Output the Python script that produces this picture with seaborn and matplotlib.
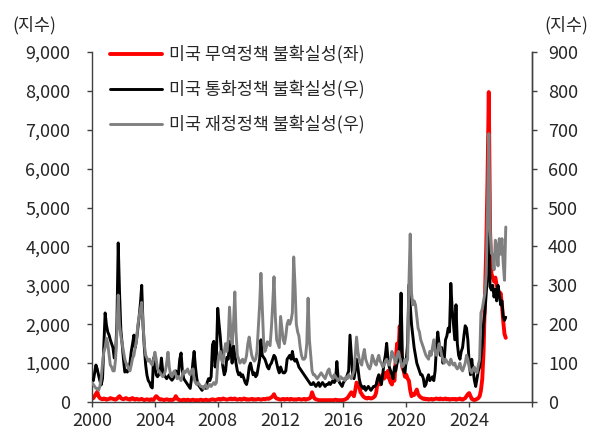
import numpy as np
import pandas as pd
import matplotlib
matplotlib.use('Agg')
import matplotlib.pyplot as plt
import matplotlib.ticker as mticker
import seaborn as sns

# monthly index values, Jan 2000 .. May 2026
trade_unc = [  # left axis
    80, 100, 150, 200, 260, 150, 100, 80, 70, 90, 80, 60,
    70, 80, 100, 90, 80, 70, 60, 80, 120, 150, 100, 80,
    70, 90, 100, 80, 70, 60, 90, 100, 70, 60, 80, 70,
    60, 70, 80, 60, 50, 60, 70, 60, 50, 70, 60, 50,
    110, 150, 120, 80, 60, 70, 60, 50, 60, 70, 60, 50,
    60, 50, 60, 80, 150, 90, 60, 50, 40, 50, 60, 50,
    50, 60, 50, 40, 50, 60, 50, 40, 50, 40, 50, 60,
    50, 40, 50, 60, 50, 40, 50, 60, 70, 60, 50, 60,
    70, 80, 60, 70, 90, 80, 70, 60, 70, 80, 90, 70,
    80, 90, 70, 60, 70, 80, 60, 70, 90, 80, 60, 70,
    60, 70, 80, 60, 70, 60, 70, 80, 70, 60, 70, 80,
    70, 80, 90, 80, 100, 120, 150, 200, 120, 90, 80, 70,
    60, 70, 80, 60, 70, 80, 70, 60, 80, 70, 60, 70,
    60, 70, 80, 70, 60, 70, 80, 60, 70, 80, 90, 120,
    250, 150, 90, 70, 60, 50, 40, 50, 40, 50, 40, 50,
    40, 50, 40, 50, 40, 50, 60, 50, 40, 50, 40, 50,
    50, 60, 80, 100, 150, 200, 250, 200, 150, 300, 500, 450,
    400, 250, 200, 150, 120, 100, 90, 110, 100, 90, 100, 120,
    150, 250, 500, 600, 450, 650, 700, 600, 750, 650, 800, 600,
    500, 450, 600, 550, 1100, 1500, 1200, 1950, 1300, 900, 800, 650,
    700, 600, 550, 300, 150, 200, 180, 250, 320, 200, 150, 120,
    100, 80, 90, 70, 80, 60, 70, 80, 60, 70, 80, 90,
    80, 70, 90, 80, 70, 80, 90, 70, 80, 60, 70, 80,
    70, 80, 60, 70, 80, 90, 70, 60, 80, 100, 150, 200,
    230, 150, 80, 60, 50, 60, 80, 100, 150, 300, 600, 1300,
    2600, 4000, 5600, 7970, 4400, 3300, 3200, 3100, 3200, 3000, 2900, 2700,
    2800, 2500, 2100, 1750, 1650,
]

monetary_unc = [  # right axis
    56, 55, 75, 95, 85, 69, 55, 44, 60, 140, 229, 198,
    180, 172, 160, 150, 140, 113, 125, 200, 409, 283, 185, 150,
    110, 77, 80, 77, 90, 100, 130, 150, 172, 140, 160, 190,
    220, 256, 300, 198, 140, 95, 69, 55, 50, 40, 36, 113,
    100, 70, 65, 70, 75, 113, 80, 70, 65, 60, 65, 70,
    60, 56, 60, 70, 80, 75, 70, 110, 126, 80, 60, 55,
    50, 45, 40, 35, 60, 100, 130, 90, 60, 45, 40, 35,
    30, 35, 40, 35, 50, 60, 55, 65, 147, 156, 90, 120,
    241, 200, 167, 120, 90, 70, 80, 115, 110, 156, 130, 100,
    144, 120, 100, 80, 70, 75, 65, 70, 60, 50, 45, 60,
    90, 100, 85, 70, 75, 65, 70, 90, 110, 160, 120, 115,
    110, 100, 90, 85, 95, 100, 110, 120, 115, 100, 85, 75,
    90, 80, 75, 75, 80, 110, 115, 120, 110, 130, 110, 105,
    110, 100, 90, 85, 80, 75, 70, 65, 60, 55, 50, 45,
    45, 50, 45, 40, 45, 50, 40, 45, 50, 45, 40, 45,
    45, 50, 45, 50, 55, 50, 55, 104, 60, 50, 45, 40,
    50, 55, 60, 70, 80, 172, 120, 70, 60, 80, 110, 90,
    60, 45, 40, 35, 40, 30, 35, 40, 35, 30, 35, 40,
    40, 45, 60, 70, 55, 45, 70, 100, 120, 151, 110, 90,
    80, 70, 60, 90, 80, 100, 110, 150, 280, 120, 80, 75,
    110, 150, 301, 250, 200, 170, 140, 120, 100, 90, 80, 70,
    70, 60, 40, 45, 60, 70, 55, 60, 65, 55, 80, 140,
    180, 150, 120, 140, 100, 110, 160, 170, 190, 180, 305, 240,
    200, 160, 250, 150, 120, 110, 130, 140, 170, 196, 190, 160,
    100, 70, 110, 80, 56, 40, 60, 80, 90, 120, 150, 200,
    230, 280, 330, 455, 296, 288, 300, 270, 290, 260, 300, 280,
    250, 260, 220, 210, 218,
]

fiscal_unc = [  # right axis
    50, 45, 40, 35, 35, 30, 40, 60, 100, 128, 140, 164,
    150, 120, 95, 90, 80, 80, 110, 180, 275, 198, 170, 150,
    128, 110, 100, 95, 85, 80, 95, 113, 120, 140, 160, 198,
    220, 240, 256, 200, 147, 120, 113, 105, 110, 100, 95, 110,
    128, 110, 85, 80, 75, 70, 65, 70, 80, 100, 128, 90,
    70, 65, 75, 80, 70, 60, 65, 60, 55, 70, 80, 75,
    80, 85, 75, 70, 80, 85, 60, 50, 45, 50, 45, 40,
    40, 35, 40, 45, 35, 40, 45, 40, 45, 50, 45, 50,
    100, 120, 130, 110, 100, 130, 150, 130, 160, 244, 180, 150,
    200, 283, 180, 120, 110, 100, 105, 110, 100, 105, 120, 150,
    167, 140, 120, 110, 105, 110, 130, 190, 250, 331, 244, 160,
    130, 140, 155, 150, 145, 190, 250, 322, 220, 160, 150, 140,
    220, 190, 160, 150, 170, 200, 210, 200, 210, 230, 373, 300,
    200, 180, 170, 140, 120, 110, 110, 115, 150, 267, 160, 120,
    80, 70, 70, 65, 60, 65, 70, 75, 70, 65, 60, 70,
    80, 85, 70, 65, 60, 70, 65, 60, 55, 60, 65, 60,
    60, 55, 65, 60, 70, 65, 60, 70, 80, 120, 167, 130,
    110, 100, 95, 120, 135, 110, 100, 90, 85, 95, 120, 110,
    100, 95, 110, 120, 105, 100, 90, 95, 105, 110, 100, 95,
    110, 130, 120, 110, 100, 120, 130, 115, 100, 90, 95, 110,
    100, 110, 300, 432, 280, 250, 260, 250, 220, 190, 180, 160,
    150, 140, 130, 120, 115, 110, 130, 120, 140, 160, 130, 120,
    130, 150, 140, 120, 110, 100, 110, 105, 100, 95, 110, 100,
    95, 100, 90, 85, 90, 100, 85, 80, 90, 100, 120, 110,
    90, 80, 75, 85, 90, 80, 75, 95, 110, 229, 240, 260,
    280, 330, 480, 690, 442, 382, 380, 340, 416, 400, 350, 420,
    380, 420, 360, 313, 450,
]

labels = ['미국 무역정책 불확실성(좌)', '미국 통화정책 불확실성(우)', '미국 재정정책 불확실성(우)']
year_ticks = list(range(2000, 2029, 4))

dates = pd.date_range('2000-01-01', periods=len(trade_unc), freq='MS')
df = pd.DataFrame({'date': dates, 'trade': trade_unc,
                   'monetary': monetary_unc, 'fiscal': fiscal_unc})

sns.set_style('white')
plt.rcParams['font.family'] = ['Noto Sans CJK KR', 'DejaVu Sans']
plt.rcParams['axes.unicode_minus'] = False

fig = plt.figure(figsize=(5.91, 4.33), dpi=100)
ax1 = fig.add_axes([0.1557, 0.0716, 0.7445, 0.8083])
ax2 = ax1.twinx()

sns.lineplot(data=df, x='date', y='trade', ax=ax1, color='#ff0000', lw=2.8, label=labels[0], legend=False)
sns.lineplot(data=df, x='date', y='monetary', ax=ax2, color='#000000', lw=2.1, label=labels[1], legend=False)
sns.lineplot(data=df, x='date', y='fiscal', ax=ax2, color='#808080', lw=2.1, label=labels[2], legend=False)

ax1.set_xlim(pd.Timestamp('2000-01-01'), pd.Timestamp('2028-01-01'))
ax1.set_ylim(0, 9000)
ax2.set_ylim(0, 900)
ax1.set_yticks(range(0, 9001, 1000))
ax2.set_yticks(range(0, 901, 100))
ax1.yaxis.set_major_formatter(mticker.FuncFormatter(lambda v, p: f'{v:,.0f}'))
ax1.set_xticks([pd.Timestamp(f'{y}-01-01') for y in year_ticks])
ax1.set_xticklabels([str(y) if y < 2028 else '' for y in year_ticks])
ax1.set_xlabel('')
ax1.set_ylabel('')
ax2.set_ylabel('')

spine_c = '#404040'
txt_c = '#262626'
for ax in (ax1, ax2):
    ax.spines['top'].set_visible(False)
    for s in ax.spines.values():
        s.set_color(spine_c)
        s.set_linewidth(1.0)
    ax.tick_params(direction='out', length=3.5, width=1.0, color=spine_c,
                   labelsize=13, labelcolor=txt_c)
ax2.spines['left'].set_visible(False)
ax2.spines['bottom'].set_visible(False)
ax1.tick_params(axis='y', left=True, pad=12)
ax1.tick_params(axis='x', bottom=True, pad=4)
ax2.tick_params(axis='y', right=True, pad=8)

fig.text(12 / 591, 1 - 25 / 433, '(지수)', fontsize=12.5, color=txt_c, va='center', ha='left')
fig.text(588 / 591, 1 - 25 / 433, '(지수)', fontsize=12.5, color=txt_c, va='center', ha='right')

handles = ax1.get_lines() + ax2.get_lines()
leg = ax1.legend(handles, labels, loc='upper left', bbox_to_anchor=(0.041, 1.02),
                 frameon=False, fontsize=12.5, handlelength=3.0, handletextpad=0.4,
                 labelspacing=0.95, borderpad=0, borderaxespad=0)
for t in leg.get_texts():
    t.set_color(txt_c)

fig.savefig('out.png', dpi=100, facecolor='white')
